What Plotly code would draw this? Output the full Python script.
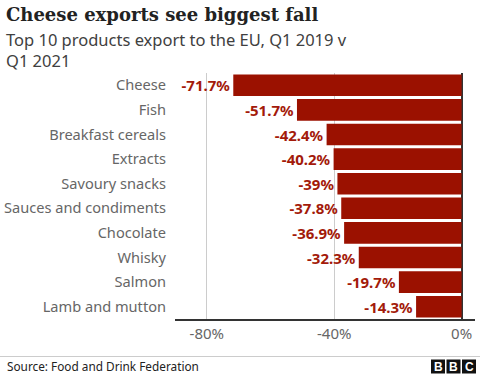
import plotly.graph_objects as go

products = ["Cheese", "Fish", "Breakfast cereals", "Extracts", "Savoury snacks",
            "Sauces and condiments", "Chocolate", "Whisky", "Salmon", "Lamb and mutton"]
change = [-71.7, -51.7, -42.4, -40.2, -39, -37.8, -36.9, -32.3, -19.7, -14.3]
labels = ["-71.7%", "-51.7%", "-42.4%", "-40.2%", "-39%", "-37.8%", "-36.9%", "-32.3%", "-19.7%", "-14.3%"]
tick_vals = [-80, -40, 0]
tick_text = ["-80%", "-40%", "0%"]

W, H = 480, 375
L, R, T, B = 175, 5, 73, 56
pw, ph = W - L - R, H - T - B

def px(x):
    return (x - L) / pw

def py(y):
    return (H - B - y) / ph

FONT = "Noto Sans"
RED = "#9b1100"

fig = go.Figure(go.Bar(
    x=change, y=products, orientation="h",
    marker=dict(color=RED, line=dict(width=0)),
    text=labels, textposition="outside", cliponaxis=False,
    textfont=dict(family=FONT, size=15, color="#a31a0a", weight="bold"),
    hoverinfo="skip",
))

fig.update_layout(
    width=W, height=H,
    margin=dict(l=L, r=R, t=T, b=B),
    paper_bgcolor="white", plot_bgcolor="white",
    showlegend=False, bargap=0.12,
    font=dict(family=FONT),
    xaxis=dict(range=[-90, 4.2], tickvals=tick_vals, ticktext=tick_text,
               showgrid=True, gridcolor="#cccccc", gridwidth=1,
               zeroline=True, zerolinecolor="#333333", zerolinewidth=1.5,
               showline=True, linecolor="#333333", linewidth=1.5,
               ticks="", tickfont=dict(size=15, color="#666666"),
               fixedrange=True),
    yaxis=dict(autorange="reversed", showgrid=False, zeroline=False,
               ticks="", ticklabelstandoff=8,
               tickfont=dict(size=14.6, color="#666666"), fixedrange=True),
)

annotations = [
    dict(text="<b>Cheese exports see biggest fall</b>", x=px(4), y=py(2),
         xanchor="left", yanchor="top",
         font=dict(family="DejaVu Serif", size=18, color="#222222")),
    dict(text="Top 10 products export to the EU, Q1 2019 v<br>Q1 2021", x=px(4), y=py(26),
         xanchor="left", yanchor="top", align="left",
         font=dict(family=FONT, size=16.5, color="#404040")),
    dict(text="Source: Food and Drink Federation", x=px(5), y=py(366),
         xanchor="left", yanchor="middle",
         font=dict(family=FONT, size=11.8, color="#222222")),
]
shapes = [
    dict(type="line", xref="paper", yref="paper", x0=px(0), x1=px(480),
         y0=py(356.5), y1=py(356.5), line=dict(color="#cccccc", width=1)),
]
for i, letter in enumerate(["B", "B", "C"]):
    x0 = 431 + i * 15.5
    shapes.append(dict(type="rect", xref="paper", yref="paper",
                       x0=px(x0), x1=px(x0 + 14), y0=py(373.5), y1=py(359.5),
                       fillcolor="#111111", line=dict(width=0)))
    annotations.append(dict(text="<b>" + letter + "</b>", x=px(x0 + 7), y=py(366.5),
                            xanchor="center", yanchor="middle", showarrow=False,
                            font=dict(family="Liberation Sans", size=12, color="white")))
for a in annotations:
    a.setdefault("showarrow", False)
    a["xref"] = "paper"
    a["yref"] = "paper"
fig.update_layout(annotations=annotations, shapes=shapes)

fig.write_html("out.html", config={"displayModeBar": False},
               post_script="document.body.style.margin='0';")
